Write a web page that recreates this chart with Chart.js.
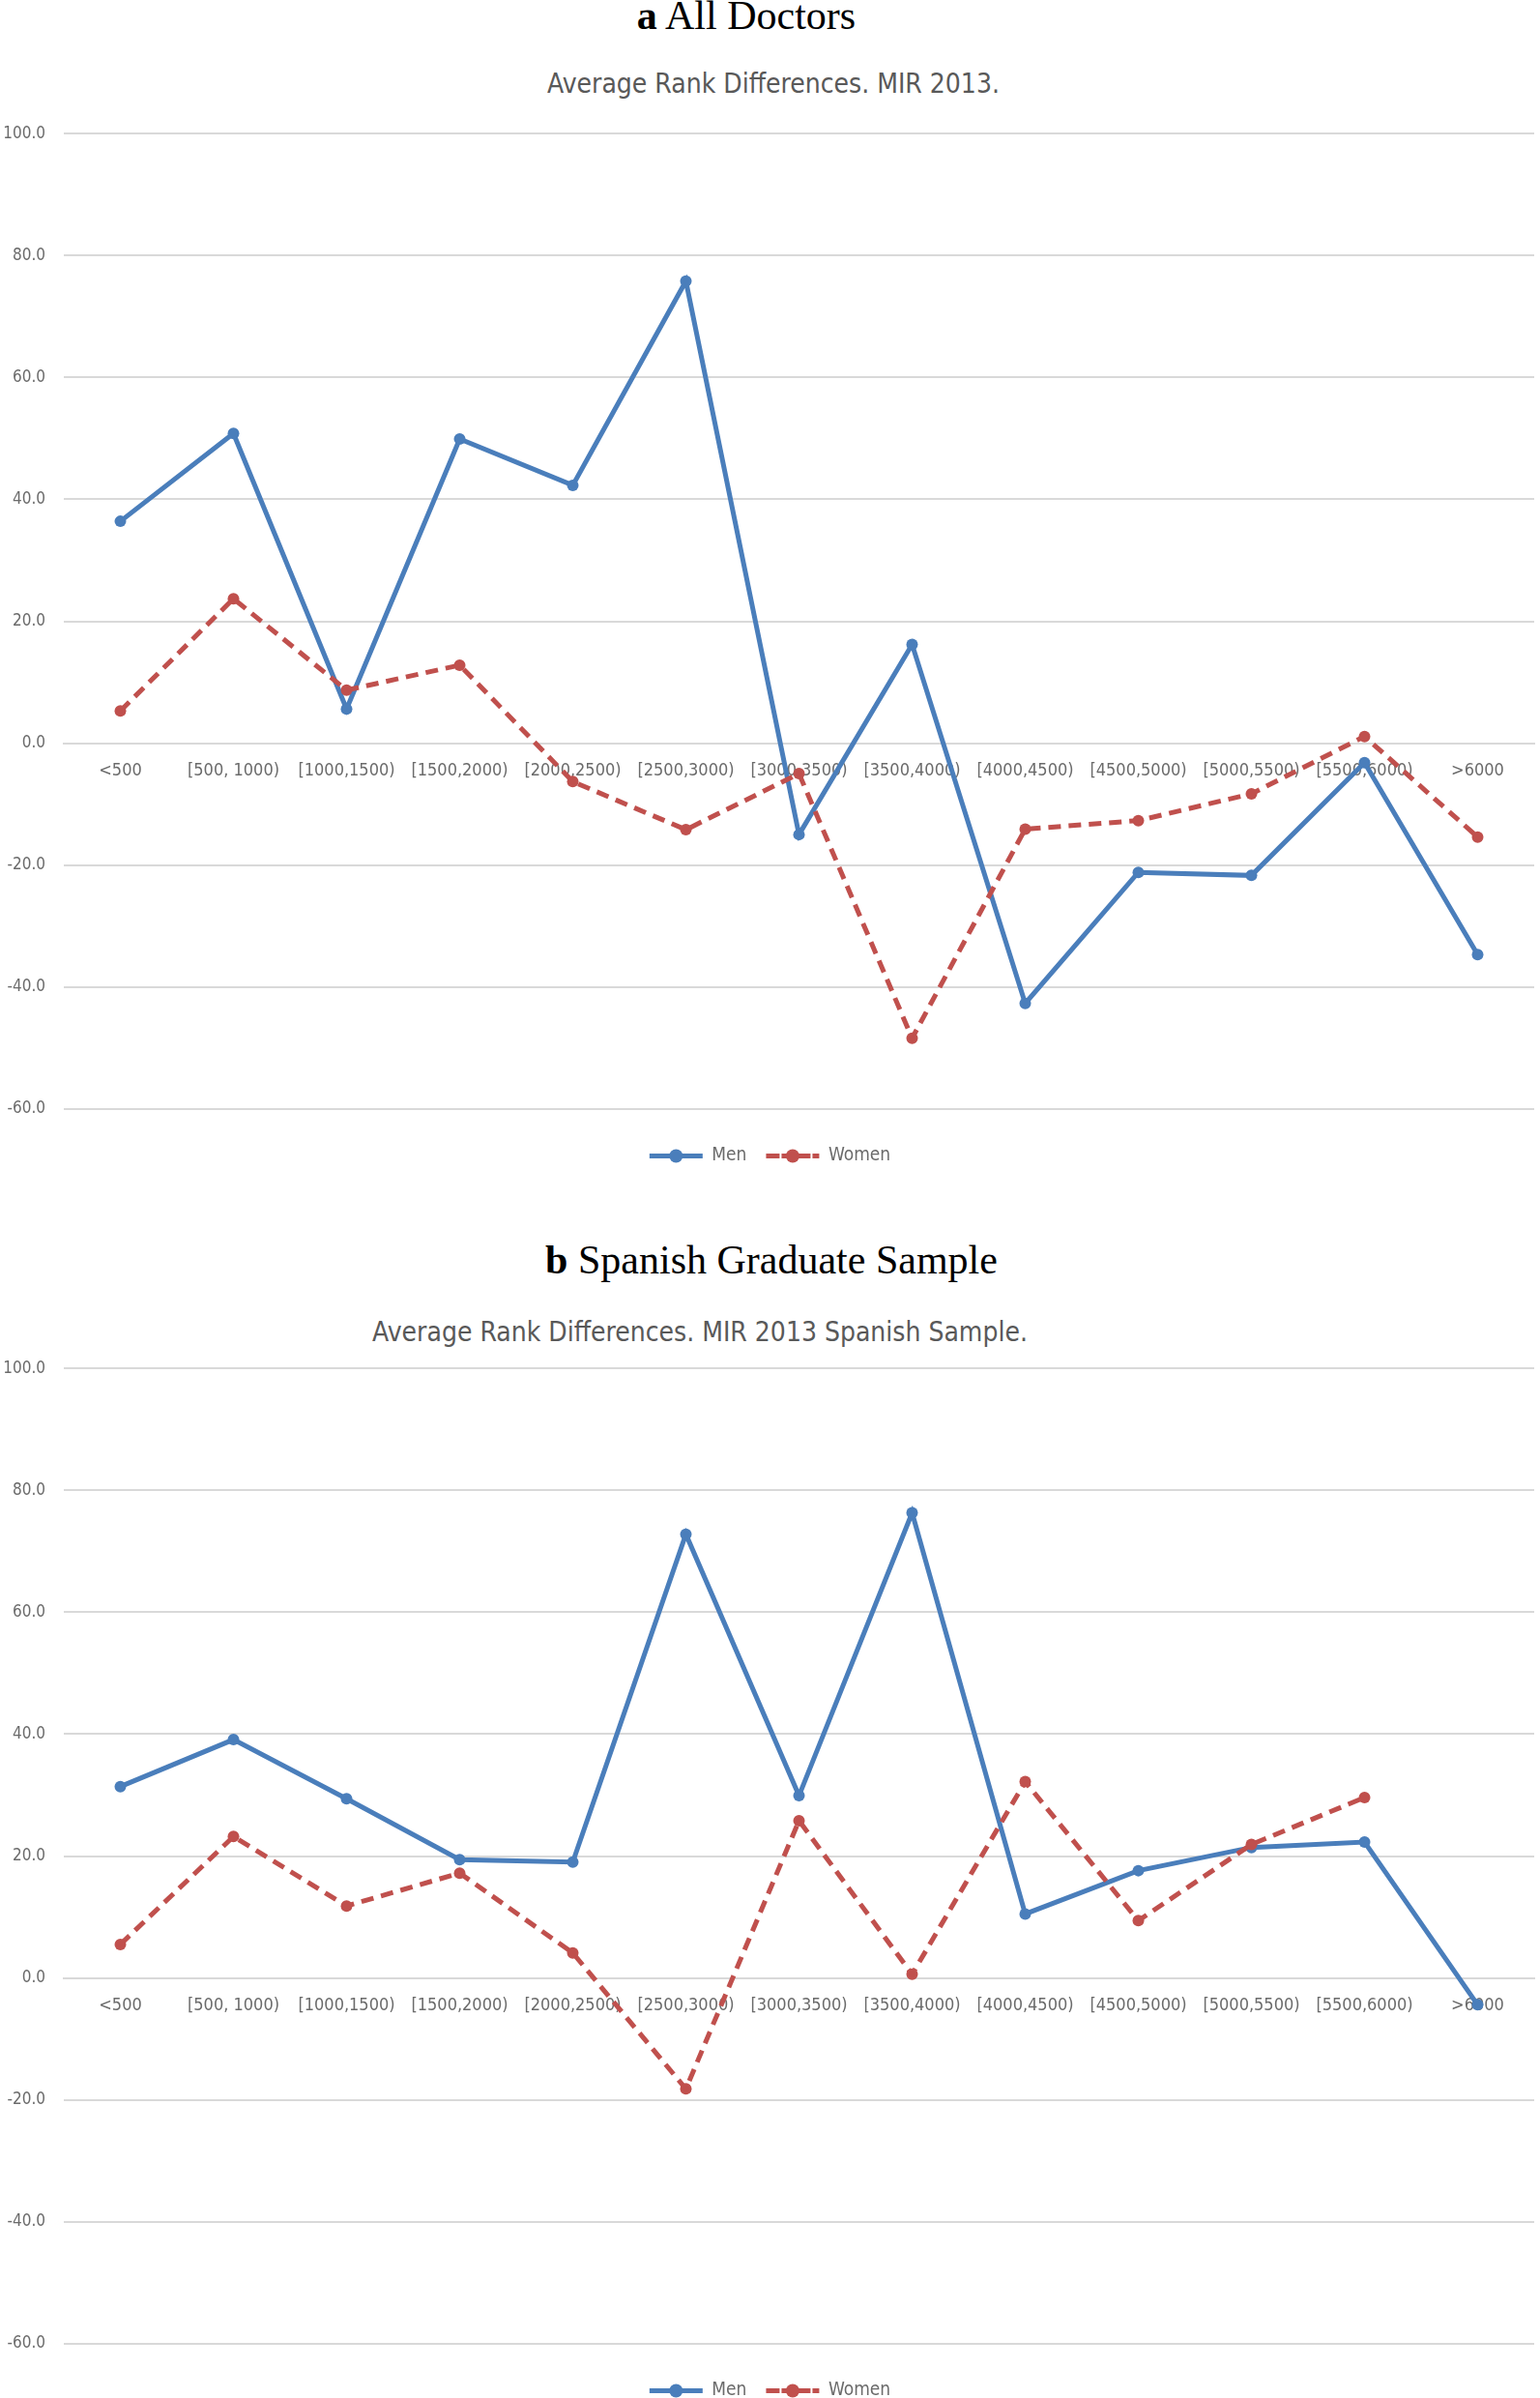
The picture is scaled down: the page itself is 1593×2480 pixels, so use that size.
<!DOCTYPE html>
<html>
<head>
<meta charset="utf-8">
<script src="https://cdn.jsdelivr.net/npm/chart.js@4.4.1/dist/chart.umd.min.js"></script>
<style>
  html, body { margin: 0; padding: 0; background: #fff; }
  body { width: 1593px; height: 2480px; position: relative; overflow: hidden; }
  .heading { position: absolute; font-family: 'Liberation Serif', 'DejaVu Serif', serif; font-size: 42px; line-height: 44px; color: #000; white-space: nowrap; transform: translateX(-50%); }
  .heading b { font-weight: bold; }
  .ctitle { position: absolute; font-family: 'Liberation Sans Narrow', 'DejaVu Sans Condensed', 'Open Sans', sans-serif; font-size: 28px; line-height: 34px; color: #595959; white-space: nowrap; transform: translateX(-50%); }
  .wrap { position: absolute; left: 0; width: 1593px; }
</style>
</head>
<body>
<div class="heading" style="left:772px; top:-6px;"><b>a</b> All Doctors</div>
<div class="ctitle" style="left:800px; top:70px;">Average Rank Differences. MIR 2013.</div>
<div class="wrap" style="top:109px; height:1130px;"><canvas id="chartA"></canvas></div>

<div class="heading" style="left:798px; top:1281px;"><b>b</b> Spanish Graduate Sample</div>
<div class="ctitle" style="left:724px; top:1361px;">Average Rank Differences. MIR 2013 Spanish Sample.</div>
<div class="wrap" style="top:1386px; height:1106px;"><canvas id="chartB"></canvas></div>

<script>
const categories = ['<500', '[500, 1000)', '[1000,1500)', '[1500,2000)', '[2000,2500)', '[2500,3000)', '[3000,3500)', '[3500,4000)', '[4000,4500)', '[4500,5000)', '[5000,5500)', '[5500,6000)', '>6000'];

const menAll = [36.4, 50.8, 5.6, 49.9, 42.3, 75.8, -15.0, 16.2, -42.7, -21.2, -21.7, -3.2, -34.7];
const womenAll = [5.3, 23.7, 8.7, 12.8, -6.3, -14.2, -5.0, -48.4, -14.1, -12.7, -8.3, 1.1, -15.4];

const menSpanish = [31.4, 39.1, 29.4, 19.4, 19.0, 72.8, 29.9, 76.3, 10.5, 17.6, 21.4, 22.3, -4.4];
const womenSpanish = [5.5, 23.2, 11.8, 17.2, 4.1, -18.2, 25.8, 0.6, 32.2, 9.4, 21.9, 29.6, null];

const yTicks = { min: -60, max: 100, step: 20 };

const MEN_COLOR = '#4A7EBB';
const WOMEN_COLOR = '#C0504D';
const FONT = "'Liberation Sans Narrow', 'DejaVu Sans Condensed', 'Open Sans', sans-serif";
const GRID = '#D9D9D9';
const TEXT = '#6b6b6b';

const legendMarkers = {
  id: 'legendMarkers',
  afterDraw(chart) {
    const lg = chart.legend;
    if (!lg || !lg.legendHitBoxes) return;
    const ctx = chart.ctx;
    const bw = lg.options.labels.boxWidth;
    const fs = lg.options.labels.font.size;
    lg.legendItems.forEach((item, i) => {
      const hb = lg.legendHitBoxes[i];
      const ds = chart.data.datasets[item.datasetIndex];
      ctx.save();
      ctx.fillStyle = ds.borderColor;
      ctx.beginPath();
      ctx.arc(hb.left + bw / 2, hb.top + fs / 2, 7, 0, Math.PI * 2);
      ctx.fill();
      ctx.restore();
    });
  }
};

function makeChart(id, men, women, padTop, padBottom) {
  return new Chart(document.getElementById(id), {
    type: 'line',
    data: {
      labels: categories,
      datasets: [
        {
          label: 'Men',
          data: men,
          borderColor: MEN_COLOR,
          backgroundColor: MEN_COLOR,
          borderWidth: 5,
          pointRadius: 6,
          pointHoverRadius: 6,
          pointBackgroundColor: MEN_COLOR,
          pointBorderWidth: 0,
          tension: 0,
          order: 1
        },
        {
          label: 'Women',
          data: women,
          borderColor: WOMEN_COLOR,
          backgroundColor: WOMEN_COLOR,
          borderWidth: 5,
          borderDash: [13, 8],
          pointRadius: 6,
          pointHoverRadius: 6,
          pointBackgroundColor: WOMEN_COLOR,
          pointBorderWidth: 0,
          tension: 0,
          spanGaps: false,
          order: 0
        }
      ]
    },
    options: {
      responsive: true,
      maintainAspectRatio: false,
      animation: false,
      devicePixelRatio: 1,
      layout: { padding: { top: padTop, bottom: padBottom, right: 0, left: 0 } },
      plugins: {
        title: { display: false },
        tooltip: { enabled: false },
        legend: {
          display: true,
          position: 'bottom',
          title: { display: true, text: '', font: { size: 1 }, padding: { top: 18, bottom: 0 } },
          labels: {
            boxWidth: 55,
            boxHeight: 0,
            padding: 20,
            color: TEXT,
            font: { family: FONT, size: 19 },
            sort: (a, b) => a.datasetIndex - b.datasetIndex,
            generateLabels(chart) {
              return chart.data.datasets.map((ds, i) => ({
                text: ds.label,
                fillStyle: 'rgba(0,0,0,0)',
                strokeStyle: ds.borderColor,
                lineWidth: 5,
                lineDash: ds.borderDash ? [10, 6] : [],
                lineDashOffset: 0,
                lineCap: 'butt',
                hidden: false,
                datasetIndex: i,
                fontColor: TEXT
              }));
            }
          }
        }
      },
      scales: {
        x: {
          type: 'category',
          position: { y: 0 },
          offset: true,
          grid: { display: false, drawTicks: false },
          border: { display: true, color: GRID, width: 2 },
          ticks: {
            color: TEXT,
            font: { family: FONT, size: 18 },
            padding: 18,
            maxRotation: 0,
            minRotation: 0,
            autoSkip: false
          }
        },
        y: {
          min: yTicks.min,
          max: yTicks.max,
          afterFit(scale) { scale.width = 66; },
          grid: { color: GRID, lineWidth: 2, drawTicks: false },
          border: { display: false },
          ticks: {
            stepSize: yTicks.step,
            color: TEXT,
            font: { family: FONT, size: 17 },
            padding: 19,
            callback: v => Number(v).toFixed(1)
          }
        }
      }
    },
    plugins: [legendMarkers]
  });
}

makeChart('chartA', menAll, womenAll, 18, 24);
makeChart('chartB', menSpanish, womenSpanish, 18, 0);
</script>
</body>
</html>
